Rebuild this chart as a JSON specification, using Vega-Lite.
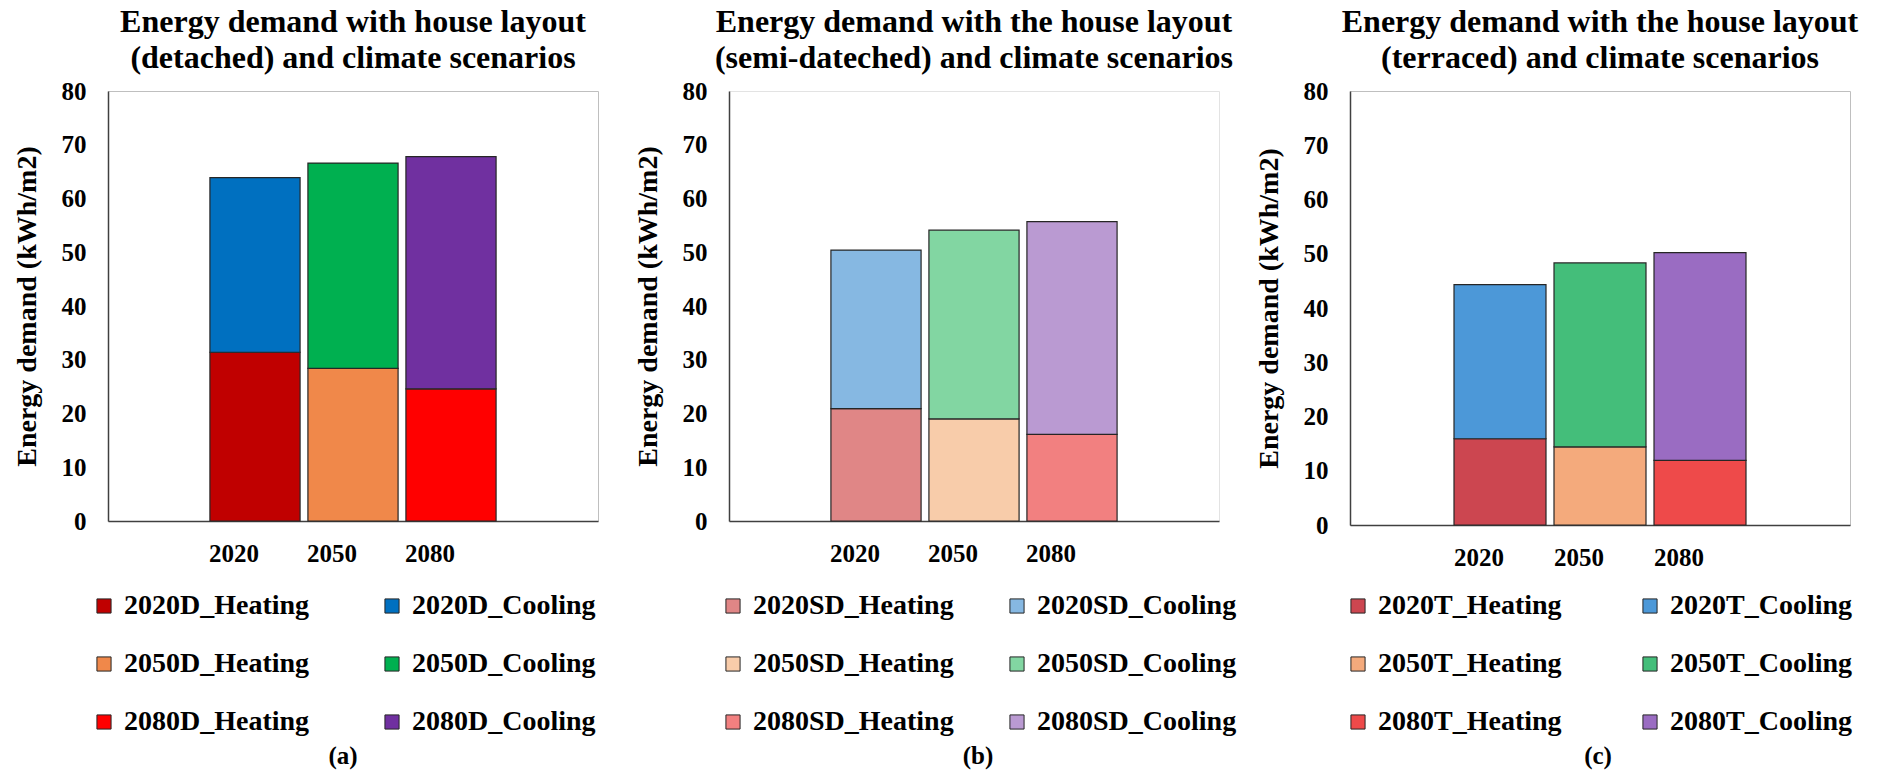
{
  "$schema": "https://vega.github.io/schema/vega-lite/v6.json",
  "background": "white",
  "padding": {"left": 12, "top": 5, "right": 5, "bottom": 2},
  "bounds": "flush",
  "spacing": 131,
  "resolve": {"scale": {"color": "independent", "x": "independent", "y": "independent"}, "legend": {"color": "independent"}},
  "config": {
    "font": "Liberation Serif",
    "view": {"stroke": "#BFBFBF", "strokeWidth": 1},
    "axis": {
      "labelFont": "Liberation Serif", "labelFontWeight": "bold", "labelColor": "black", "labelFontSize": 25,
      "titleFont": "Liberation Serif", "titleFontWeight": "bold", "titleFontSize": 28, "titleColor": "black",
      "ticks": false, "tickSize": 0, "grid": false, "domainColor": "#404040", "domainWidth": 1.5
    },
    "legend": {
      "labelFont": "Liberation Serif", "labelFontWeight": "bold", "labelFontSize": 28, "labelColor": "black", "labelLimit": 500,
      "titleFont": "Liberation Serif", "titleFontWeight": "bold", "titleFontSize": 25, "titleColor": "black",
      "symbolType": "square", "symbolSize": 200, "symbolStrokeColor": "#262626", "symbolStrokeWidth": 1,
      "rowPadding": 30, "labelOffset": 6, "titlePadding": 8, "padding": 0
    },
    "title": {"font": "Liberation Serif", "fontSize": 32, "fontWeight": "bold", "color": "black", "anchor": "middle", "frame": "group", "offset": 4, "lineHeight": 36}
  },
  "hconcat": [
    {
      "title": {"text": ["Energy demand with house layout", "(detached) and climate scenarios"]},
      "width": 490, "height": 430,
      "data": {"values": [
        {"year": "2020", "series": "2020D_Heating", "part": "Heating", "value": 31.4},
        {"year": "2020", "series": "2020D_Cooling", "part": "Cooling", "value": 32.5},
        {"year": "2050", "series": "2050D_Heating", "part": "Heating", "value": 28.4},
        {"year": "2050", "series": "2050D_Cooling", "part": "Cooling", "value": 38.2},
        {"year": "2080", "series": "2080D_Heating", "part": "Heating", "value": 24.6},
        {"year": "2080", "series": "2080D_Cooling", "part": "Cooling", "value": 43.2}
      ]},
      "mark": {"type": "bar", "stroke": "#262626", "strokeWidth": 1.2},
      "encoding": {
        "x": {"field": "year", "type": "nominal",
          "scale": {"domain": ["L", "2020", "2050", "2080", "R"], "paddingInner": 0.08, "paddingOuter": 0.04},
          "axis": {"title": null, "labelAngle": 0, "labelOffset": -21, "labelPadding": 20, "labelExpr": "datum.value == 'L' || datum.value == 'R' ? '' : datum.value"}},
        "y": {"field": "value", "type": "quantitative", "stack": "zero",
          "scale": {"domain": [0, 80]},
          "axis": {"title": "Energy demand (kWh/m2)", "values": [0, 10, 20, 30, 40, 50, 60, 70, 80], "labelPadding": 22, "titlePadding": 20}},
        "color": {"field": "series", "type": "nominal",
          "scale": {"domain": ["2020D_Heating", "2020D_Cooling", "2050D_Heating", "2050D_Cooling", "2080D_Heating", "2080D_Cooling"],
                    "range": ["#C00000", "#0070C0", "#F0884A", "#00B050", "#FF0000", "#7030A0"]},
          "legend": {"title": "(a)", "orient": "none", "legendX": -18, "legendY": 501, "direction": "horizontal", "columns": 2, "columnPadding": 68, "titleOrient": "bottom", "titleAnchor": "middle"}},
        "order": {"field": "part", "sort": "descending"}
      }
    },
    {
      "title": {"text": ["Energy demand with the house layout", "(semi-dateched) and climate scenarios"]},
      "width": 490, "height": 430,
      "view": {"stroke": "#E3E3E3"},
      "data": {"values": [
        {"year": "2020", "series": "2020SD_Heating", "part": "Heating", "value": 20.9},
        {"year": "2020", "series": "2020SD_Cooling", "part": "Cooling", "value": 29.5},
        {"year": "2050", "series": "2050SD_Heating", "part": "Heating", "value": 19.0},
        {"year": "2050", "series": "2050SD_Cooling", "part": "Cooling", "value": 35.1},
        {"year": "2080", "series": "2080SD_Heating", "part": "Heating", "value": 16.1},
        {"year": "2080", "series": "2080SD_Cooling", "part": "Cooling", "value": 39.6}
      ]},
      "mark": {"type": "bar", "stroke": "#262626", "strokeWidth": 1.2},
      "encoding": {
        "x": {"field": "year", "type": "nominal",
          "scale": {"domain": ["L", "2020", "2050", "2080", "R"], "paddingInner": 0.08, "paddingOuter": 0.04},
          "axis": {"title": null, "labelAngle": 0, "labelOffset": -21, "labelPadding": 20, "labelExpr": "datum.value == 'L' || datum.value == 'R' ? '' : datum.value"}},
        "y": {"field": "value", "type": "quantitative", "stack": "zero",
          "scale": {"domain": [0, 80]},
          "axis": {"title": "Energy demand (kWh/m2)", "values": [0, 10, 20, 30, 40, 50, 60, 70, 80], "labelPadding": 22, "titlePadding": 20}},
        "color": {"field": "series", "type": "nominal",
          "scale": {"domain": ["2020SD_Heating", "2020SD_Cooling", "2050SD_Heating", "2050SD_Cooling", "2080SD_Heating", "2080SD_Cooling"],
                    "range": ["#E08686", "#86B8E2", "#F8CCAA", "#82D6A2", "#F28080", "#BA9AD2"]},
          "legend": {"title": "(b)", "orient": "none", "legendX": -10, "legendY": 501, "direction": "horizontal", "columns": 2, "columnPadding": 49, "titleOrient": "bottom", "titleAnchor": "middle"}},
        "order": {"field": "part", "sort": "descending"}
      }
    },
    {
      "title": {"text": ["Energy demand with the house layout", "(terraced) and climate scenarios"]},
      "width": 500, "height": 434,
      "data": {"values": [
        {"year": "2020", "series": "2020T_Heating", "part": "Heating", "value": 15.9},
        {"year": "2020", "series": "2020T_Cooling", "part": "Cooling", "value": 28.4},
        {"year": "2050", "series": "2050T_Heating", "part": "Heating", "value": 14.4},
        {"year": "2050", "series": "2050T_Cooling", "part": "Cooling", "value": 33.9},
        {"year": "2080", "series": "2080T_Heating", "part": "Heating", "value": 11.9},
        {"year": "2080", "series": "2080T_Cooling", "part": "Cooling", "value": 38.3}
      ]},
      "mark": {"type": "bar", "stroke": "#262626", "strokeWidth": 1.2},
      "encoding": {
        "x": {"field": "year", "type": "nominal",
          "scale": {"domain": ["L", "2020", "2050", "2080", "R"], "paddingInner": 0.08, "paddingOuter": 0.04},
          "axis": {"title": null, "labelAngle": 0, "labelOffset": -21, "labelPadding": 20, "labelExpr": "datum.value == 'L' || datum.value == 'R' ? '' : datum.value"}},
        "y": {"field": "value", "type": "quantitative", "stack": "zero",
          "scale": {"domain": [0, 80]},
          "axis": {"title": "Energy demand (kWh/m2)", "values": [0, 10, 20, 30, 40, 50, 60, 70, 80], "labelPadding": 22, "titlePadding": 20}},
        "color": {"field": "series", "type": "nominal",
          "scale": {"domain": ["2020T_Heating", "2020T_Cooling", "2050T_Heating", "2050T_Cooling", "2080T_Heating", "2080T_Cooling"],
                    "range": ["#CC4650", "#4C98D8", "#F4AA7C", "#44BE7A", "#EE4A4A", "#9A6CC2"]},
          "legend": {"title": "(c)", "orient": "none", "legendX": -6, "legendY": 501, "direction": "horizontal", "columns": 2, "columnPadding": 74, "titleOrient": "bottom", "titleAnchor": "middle"}},
        "order": {"field": "part", "sort": "descending"}
      }
    }
  ]
}
